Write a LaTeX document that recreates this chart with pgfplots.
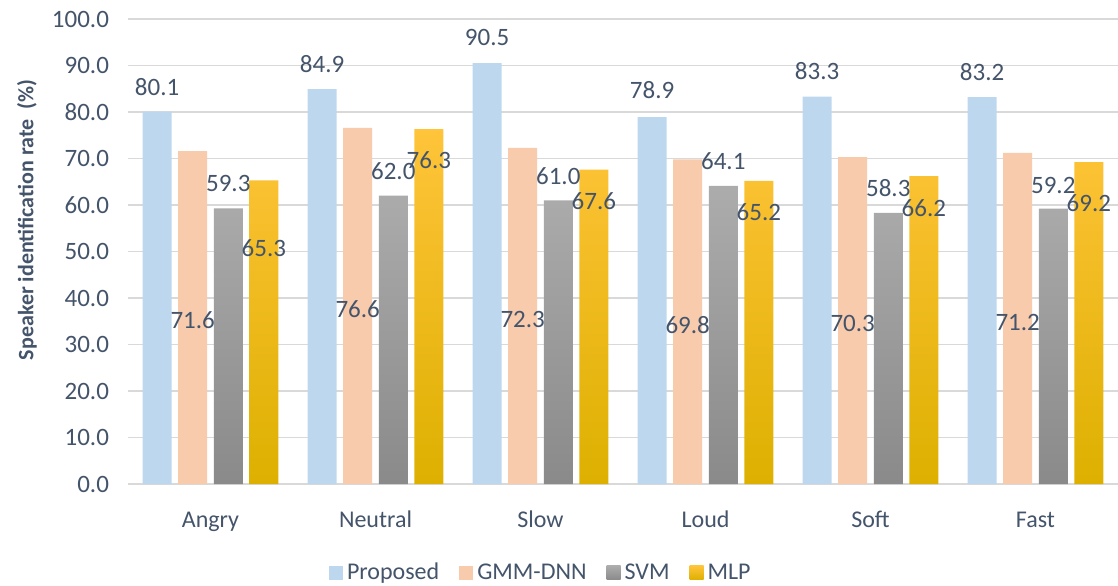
\documentclass[border=0pt]{standalone}
\usepackage{fontspec}
\setmainfont{Carlito}
\usepackage{pgfplots}
\pgfplotsset{compat=1.18}
\usepackage{pgfplotstable}

\definecolor{txt}{HTML}{44546A}
\definecolor{gridc}{HTML}{D9D9D9}
\definecolor{propc}{HTML}{BDD7EE}
\definecolor{gmmc}{HTML}{F8CBAD}
\definecolor{svmtop}{HTML}{ACACAC}
\definecolor{svmbot}{HTML}{8A8A8A}
\definecolor{mlptop}{HTML}{FFC43A}
\definecolor{mlpbot}{HTML}{DDB000}

% x = category, y = value, ly = where the data label sits
\pgfplotstableread{
x y ly
0 80.1 85.4
1 84.9 90.3
2 90.5 96.1
3 78.9 84.7
4 83.3 88.8
5 83.2 88.6
}\tabprop
\pgfplotstableread{
x y ly
0 71.6 35.3
1 76.6 37.6
2 72.3 35.4
3 69.8 34.2
4 70.3 34.6
5 71.2 34.8
}\tabgmm
\pgfplotstableread{
x y ly
0 59.3 64.7
1 62.0 67.3
2 61.0 66.2
3 64.1 69.5
4 58.3 63.7
5 59.2 64.3
}\tabsvm
\pgfplotstableread{
x y ly
0 65.3 50.8
1 76.3 69.7
2 67.6 60.9
3 65.2 58.5
4 66.2 59.4
5 69.2 60.4
}\tabmlp

\newcommand{\lblfont}{\fontsize{12.5}{15}\selectfont}

\begin{document}
\begin{tikzpicture}
\begin{axis}[
    scale only axis,
    width=495pt, height=232.5pt,
    xmin=-0.5, xmax=5.5, ymin=0, ymax=100,
    xtick={0,...,5},
    xticklabels={Angry,Neutral,Slow,Loud,Soft,Fast},
    ytick={0,10,...,100},
    ymajorgrids,
    major grid style={draw=gridc, line width=0.75pt},
    axis line style={draw=none},
    major tick length=0pt,
    /pgf/number format/assume math mode=true,
    yticklabel style={/pgf/number format/.cd, fixed, fixed zerofill, precision=1,
        /tikz/.cd, anchor=east, xshift=-6pt, font=\lblfont, text=txt},
    xticklabel style={anchor=base, yshift=-21.8pt, font=\fontsize{12}{14}\selectfont, text=txt},
    every axis y label/.style={at={(rel axis cs:0,0.568)}, xshift=-50.5pt,
        rotate=90, anchor=center, font=\fontsize{11}{13}\selectfont\bfseries, text=txt},
    ylabel={Speaker identification rate\ \ (\%)},
    ybar=3.3pt, bar width=14.5pt,
    nodes near coords={\pgfmathprintnumber[fixed,fixed zerofill,precision=1,assume math mode=true]{\pgfplotspointmeta}},
    visualization depends on={(\thisrow{ly}-\thisrow{y})*2.325 \as \dy},
    nodes near coords style={anchor=center, yshift=\dy pt, font=\lblfont, text=txt},
    legend columns=-1,
    legend style={draw=none, fill=none, at={(rel axis cs:0.418,-0.191)}, anchor=center,
        font=\fontsize{12}{14}\selectfont, text=txt,
        /tikz/every even column/.append style={column sep=8pt}},
    legend image code/.code={\path[#1, draw=none] (0pt,-3.5pt) rectangle (7pt,3.5pt);},
]
\addplot[draw=none, fill=propc] table[x=x, y=y] {\tabprop};
\addplot[draw=none, fill=gmmc] table[x=x, y=y] {\tabgmm};
\addplot[draw=none, top color=svmtop, bottom color=svmbot] table[x=x, y=y] {\tabsvm};
\addplot[draw=none, top color=mlptop, bottom color=mlpbot] table[x=x, y=y] {\tabmlp};
\legend{Proposed, GMM-DNN, SVM, MLP}
\coordinate (O) at (rel axis cs:0,0);
\end{axis}
\pgfresetboundingbox
\path[use as bounding box] (O) ++(-64pt,-50.5pt) rectangle ++(559pt,292.5pt);
\end{tikzpicture}
\end{document}
